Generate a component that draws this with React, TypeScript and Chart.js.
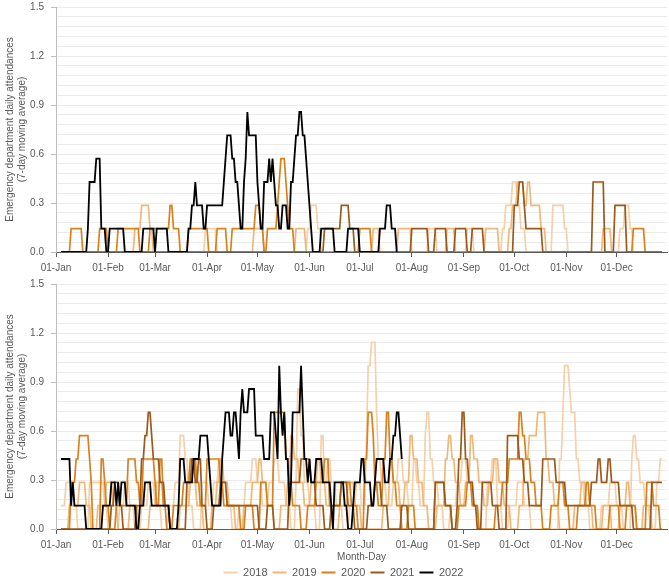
import React, { useEffect, useRef } from "react";
import { Chart, registerables } from "chart.js";

Chart.register(...registerables);

const MONTH_NAMES = ["Jan", "Feb", "Mar", "Apr", "May", "Jun", "Jul", "Aug", "Sep", "Oct", "Nov", "Dec"];
const MONTH_LENGTHS = [31, 28, 31, 30, 31, 30, 31, 31, 30, 31, 30, 31];
const DAY_LABELS: string[] = [];
MONTH_NAMES.forEach((m, i) => {
  for (let d = 1; d <= MONTH_LENGTHS[i]; d++) DAY_LABELS.push(String(d).padStart(2, "0") + "-" + m);
});

const YEARS = ["2018", "2019", "2020", "2021", "2022"];
const COLORS = ["#f6d0a8", "#f0b878", "#d7811f", "#9a5a1c", "#000000"];

const Y_MAX = 1.5;
const Y_GRID_STEP = 0.06;
const Y_LABEL_EVERY = 5;

// Series as change points: [day index, attendances in the 7-day window, ...]
const TOP_2018 = [3, 0, 89, 1, 96, 0, 150, 1, 152, 2, 156, 1, 158, 0, 222, 1, 227, 0, 245, 1, 249, 0, 266, 1, 268, 2, 272, 3, 275, 2, 277, 1, 280, 0, 296, 2, 303, 1, 305, 0, 336, 1, 339, 2, 342, 1, 344, 0];
const TOP_2019 = [3, 0, 47, 1, 51, 2, 56, 1, 58, 0, 118, 1, 124, 0, 143, 1, 149, 0, 189, 1, 193, 0, 204, 1, 212, 0, 233, 1, 238, 0, 256, 1, 264, 0, 270, 1, 272, 2, 275, 3, 279, 2, 281, 3, 283, 2, 289, 1, 292, 0, 326, 1, 331, 0];
const TOP_2020 = [3, 0, 9, 1, 16, 0, 26, 1, 31, 0, 37, 1, 50, 0, 56, 1, 68, 2, 70, 1, 74, 0, 79, 1, 91, 0, 96, 1, 102, 0, 105, 1, 119, 2, 122, 1, 124, 0, 126, 1, 132, 2, 133, 3, 134, 4, 137, 3, 138, 2, 139, 1, 142, 0, 181, 1, 188, 0, 344, 1, 351, 0];
const TOP_2021 = [3, 0, 160, 1, 170, 2, 175, 1, 178, 0, 212, 1, 222, 0, 226, 1, 233, 0, 238, 1, 245, 0, 248, 1, 255, 0, 273, 2, 276, 3, 279, 2, 280, 1, 290, 0, 320, 3, 327, 0, 333, 2, 340, 0];
const TOP_2022 = [3, 0, 19, 1, 20, 3, 24, 4, 27, 1, 30, 0, 32, 1, 41, 0, 52, 1, 59, 0, 60, 1, 67, 0, 79, 1, 81, 2, 83, 3, 84, 2, 88, 1, 90, 2, 100, 3, 101, 4, 102, 5, 105, 4, 107, 3, 109, 2, 110, 1, 112, 3, 113, 4, 114, 6, 115, 5, 120, 3, 121, 2, 122, 1, 124, 3, 127, 4, 128, 3, 129, 4, 130, 3, 131, 2, 133, 1, 135, 2, 138, 1, 140, 3, 142, 4, 143, 5, 145, 6, 147, 5, 149, 4, 150, 3, 151, 2, 152, 1, 153, 0, 158, 1, 166, 0, 174, 1, 181, 0, 193, 1, 197, 2, 200, 1, 203, 0];

const BOT_2018 = [3, 1, 6, 2, 11, 1, 13, 0, 20, 2, 29, 1, 31, 0, 38, 1, 41, 2, 44, 1, 47, 0, 51, 1, 55, 2, 59, 1, 63, 0, 67, 1, 71, 2, 74, 4, 77, 3, 79, 1, 82, 0, 87, 2, 91, 1, 94, 2, 97, 3, 99, 2, 102, 1, 105, 0, 109, 1, 113, 2, 117, 3, 120, 2, 123, 1, 127, 2, 130, 3, 133, 2, 137, 1, 140, 0, 143, 2, 144, 6, 146, 4, 148, 2, 151, 1, 155, 0, 158, 4, 160, 2, 162, 3, 164, 2, 167, 1, 171, 0, 175, 1, 179, 2, 182, 1, 185, 4, 186, 7, 188, 8, 191, 5, 192, 3, 194, 2, 197, 1, 201, 2, 204, 3, 207, 2, 210, 1, 213, 3, 215, 2, 217, 1, 220, 4, 221, 5, 223, 3, 225, 2, 228, 1, 231, 0, 235, 1, 239, 2, 242, 3, 245, 2, 249, 1, 252, 0, 257, 2, 260, 3, 263, 1, 266, 0, 270, 1, 275, 2, 279, 1, 283, 0, 300, 3, 302, 5, 303, 7, 306, 6, 307, 5, 310, 3, 312, 2, 315, 1, 318, 0, 325, 1, 330, 2, 334, 1, 338, 0, 343, 3, 344, 4, 346, 3, 348, 2, 351, 1, 354, 0, 358, 2, 360, 3];
const BOT_2019 = [3, 0, 8, 1, 14, 2, 18, 1, 21, 0, 25, 1, 30, 2, 34, 1, 37, 0, 44, 1, 49, 0, 56, 1, 60, 2, 64, 1, 68, 0, 74, 1, 80, 2, 84, 1, 88, 0, 93, 1, 96, 2, 98, 3, 100, 2, 103, 1, 107, 0, 112, 1, 117, 2, 121, 3, 123, 2, 126, 1, 130, 0, 134, 1, 138, 2, 140, 4, 142, 3, 145, 2, 148, 1, 152, 2, 156, 3, 158, 2, 161, 1, 165, 0, 169, 1, 174, 2, 178, 1, 182, 0, 195, 1, 199, 3, 201, 2, 205, 1, 208, 2, 211, 4, 213, 3, 216, 2, 219, 1, 222, 0, 227, 1, 232, 3, 234, 4, 236, 3, 238, 2, 241, 1, 244, 2, 247, 4, 249, 3, 252, 2, 255, 1, 258, 2, 261, 3, 264, 2, 267, 1, 271, 0, 276, 1, 279, 3, 282, 4, 287, 5, 292, 3, 294, 2, 297, 1, 300, 0, 309, 1, 313, 2, 316, 1, 320, 0, 326, 1, 331, 0, 336, 1, 340, 2, 342, 1, 346, 0, 350, 1, 355, 0];
const BOT_2020 = [3, 0, 9, 2, 12, 3, 14, 4, 20, 3, 21, 2, 22, 0, 27, 3, 29, 2, 30, 1, 32, 0, 36, 1, 43, 3, 48, 2, 50, 1, 52, 3, 59, 2, 60, 1, 62, 3, 64, 1, 66, 0, 70, 1, 76, 2, 80, 3, 84, 2, 86, 1, 90, 3, 98, 2, 100, 1, 110, 0, 113, 1, 118, 0, 122, 2, 126, 1, 130, 5, 137, 3, 139, 2, 141, 1, 146, 0, 150, 1, 155, 2, 160, 3, 163, 1, 170, 2, 176, 1, 180, 0, 184, 3, 186, 5, 189, 4, 190, 2, 192, 1, 195, 3, 197, 5, 199, 3, 201, 2, 203, 1, 206, 0, 210, 1, 214, 0, 226, 2, 232, 1, 236, 0, 240, 1, 245, 2, 248, 1, 252, 0, 262, 1, 266, 2, 270, 3, 276, 5, 278, 4, 280, 3, 283, 2, 286, 1, 290, 0, 295, 1, 300, 2, 303, 1, 306, 0, 311, 1, 316, 2, 318, 1, 322, 0, 330, 1, 336, 0, 340, 1, 346, 0, 352, 2, 356, 1, 360, 0];
const BOT_2021 = [3, 0, 33, 1, 35, 2, 38, 1, 40, 0, 48, 1, 51, 3, 53, 4, 55, 5, 57, 4, 58, 3, 62, 2, 65, 1, 68, 0, 78, 2, 81, 3, 83, 2, 85, 3, 87, 1, 90, 0, 94, 1, 98, 2, 102, 1, 121, 0, 126, 1, 130, 0, 139, 2, 146, 3, 152, 2, 155, 1, 160, 0, 164, 1, 170, 2, 174, 1, 178, 0, 186, 1, 190, 2, 194, 1, 198, 0, 206, 1, 210, 0, 226, 2, 232, 1, 236, 0, 239, 1, 240, 3, 242, 5, 244, 3, 246, 2, 249, 1, 251, 0, 254, 2, 260, 1, 264, 0, 269, 4, 276, 3, 279, 2, 282, 1, 290, 3, 298, 2, 304, 1, 319, 2, 323, 3, 325, 2, 329, 3, 331, 2, 336, 1, 344, 0, 355, 2];
const BOT_2022 = [3, 3, 9, 1, 10, 2, 11, 1, 18, 0, 28, 1, 33, 2, 36, 1, 37, 2, 38, 1, 39, 2, 42, 1, 48, 0, 50, 1, 53, 2, 57, 1, 68, 0, 73, 1, 74, 3, 77, 2, 82, 3, 86, 4, 91, 3, 92, 2, 93, 1, 99, 3, 100, 4, 101, 5, 104, 4, 106, 5, 108, 4, 109, 3, 110, 5, 111, 6, 112, 5, 115, 6, 119, 4, 124, 3, 128, 5, 131, 4, 132, 3, 133, 7, 134, 5, 135, 4, 136, 5, 137, 3, 139, 1, 140, 2, 141, 5, 146, 7, 147, 5, 148, 3, 150, 2, 151, 3, 152, 2, 155, 3, 159, 2, 164, 1, 165, 0, 166, 2, 172, 1, 174, 0, 177, 1, 178, 2, 182, 3, 184, 2, 188, 1, 190, 2, 191, 3, 196, 2, 199, 3, 201, 4, 203, 5, 205, 4, 206, 3];

const FIRST_DAY = 3;
const TOP_LAST = [361, 361, 361, 361, 203];
const BOT_LAST = [361, 361, 361, 361, 206];

const TOP_SERIES = [TOP_2018, TOP_2019, TOP_2020, TOP_2021, TOP_2022];
const BOT_SERIES = [BOT_2018, BOT_2019, BOT_2020, BOT_2021, BOT_2022];

function expand(steps: number[], first: number, last: number): (number | null)[] {
  const out: (number | null)[] = [];
  let k = 0;
  let level = 0;
  for (let d = 0; d < DAY_LABELS.length; d++) {
    while (k < steps.length && steps[k] <= d) {
      level = steps[k + 1];
      k += 2;
    }
    out.push(d < first || d > last ? null : level / 7);
  }
  return out;
}

const FONT = "'Liberation Sans', Arial, sans-serif";
const TEXT = "#595959";
const PAD_LEFT = 15;
const CANVAS_W = 672;

function makeConfig(series: number[][], lasts: number[], bottom: boolean): any {
  return {
    type: "line",
    data: {
      labels: DAY_LABELS,
      datasets: series.map((s, i) => ({
        label: YEARS[i],
        data: expand(s, FIRST_DAY, lasts[i]),
        borderColor: COLORS[i],
        backgroundColor: COLORS[i],
        borderWidth: i === 4 ? 1.8 : 1.7,
        pointRadius: 0,
        pointHoverRadius: 0,
        tension: 0,
        fill: false,
        spanGaps: false,
        order: 4 - i,
      })),
    },
    options: {
      animation: false,
      responsive: false,
      devicePixelRatio: 1,
      events: [],
      layout: { padding: { left: PAD_LEFT, right: 0, top: 1, bottom: 0 } },
      plugins: {
        tooltip: { enabled: false },
        legend: {
          display: bottom,
          position: "bottom",
          labels: {
            boxWidth: 14,
            boxHeight: 2,
            padding: 5,
            color: TEXT,
            font: { family: FONT, size: 11 },
            sort: (a: any, b: any) => a.datasetIndex - b.datasetIndex,
            generateLabels: (chart: any) =>
              chart.data.datasets.map((ds: any, i: number) => ({
                text: ds.label,
                fillStyle: ds.borderColor,
                strokeStyle: ds.borderColor,
                lineWidth: 0,
                hidden: false,
                datasetIndex: i,
                fontColor: TEXT,
              })),
          },
        },
      },
      scales: {
        x: {
          type: "category",
          offset: false,
          grid: {
            drawOnChartArea: false,
            drawTicks: true,
            tickLength: 5,
            color: (ctx: any) =>
              ctx.index !== undefined && DAY_LABELS[ctx.index] && DAY_LABELS[ctx.index].startsWith("01-") ? "#595959" : "rgba(0,0,0,0)",
          },
          border: { display: true, color: "#595959", width: 1 },
          ticks: {
            autoSkip: false,
            maxRotation: 0,
            minRotation: 0,
            padding: 5,
            color: TEXT,
            font: { family: FONT, size: 10 },
            callback: (_v: any, i: number) => (DAY_LABELS[i].startsWith("01-") ? DAY_LABELS[i] : ""),
          },
          title: {
            display: bottom,
            text: "Month-Day",
            color: TEXT,
            font: { family: FONT, size: 10, lineHeight: 1 },
            padding: { top: -4, bottom: 0 },
          },
        },
        y: {
          min: 0,
          max: Y_MAX,
          afterBuildTicks: (scale: any) => {
            const t = [];
            const n = Math.round(Y_MAX / Y_GRID_STEP);
            for (let i = 0; i <= n; i++) t.push({ value: i * Y_GRID_STEP });
            scale.ticks = t;
          },
          afterFit: (scale: any) => {
            scale.width = 56 - PAD_LEFT;
          },
          grid: {
            color: "#ebebeb",
            lineWidth: 1,
            drawTicks: true,
            tickLength: 5,
            tickColor: (ctx: any) => (ctx.index % Y_LABEL_EVERY === 0 ? "#bfbfbf" : "rgba(0,0,0,0)"),
          },
          border: { display: true, color: "#bfbfbf", width: 1 },
          ticks: {
            autoSkip: false,
            padding: 7,
            color: TEXT,
            font: { family: FONT, size: 10 },
            callback: (v: number, i: number) => (i % Y_LABEL_EVERY === 0 ? v.toFixed(1) : ""),
          },
          title: {
            display: true,
            text: ["Emergency department daily attendances", "(7-day moving average)"],
            color: TEXT,
            font: { family: FONT, size: 10 },
            padding: { top: 4 - PAD_LEFT, bottom: 0 },
          },
        },
      },
    },
  };
}

function ChartCanvas({ series, lasts, bottom, width, height }: { series: number[][]; lasts: number[]; bottom: boolean; width: number; height: number }) {
  const ref = useRef<HTMLCanvasElement | null>(null);
  useEffect(() => {
    if (!ref.current) return;
    const chart = new Chart(ref.current, makeConfig(series, lasts, bottom));
    return () => chart.destroy();
  }, []);
  return <canvas ref={ref} width={width} height={height} style={{ display: "block", width: width + "px", height: height + "px" }} />;
}

export default function App() {
  useEffect(() => {
    document.body.style.margin = "0";
  }, []);
  return (
    <div style={{ position: "absolute", left: 0, top: 0, width: 669, height: 578, overflow: "hidden", background: "#ffffff" }}>
      <div style={{ position: "absolute", left: 0, top: -6 }}>
        <ChartCanvas series={TOP_SERIES} lasts={TOP_LAST} bottom={false} width={CANVAS_W} height={285} />
      </div>
      <div style={{ position: "absolute", left: 0, top: 271 }}>
        <ChartCanvas series={BOT_SERIES} lasts={BOT_LAST} bottom={true} width={CANVAS_W} height={317} />
      </div>
    </div>
  );
}
